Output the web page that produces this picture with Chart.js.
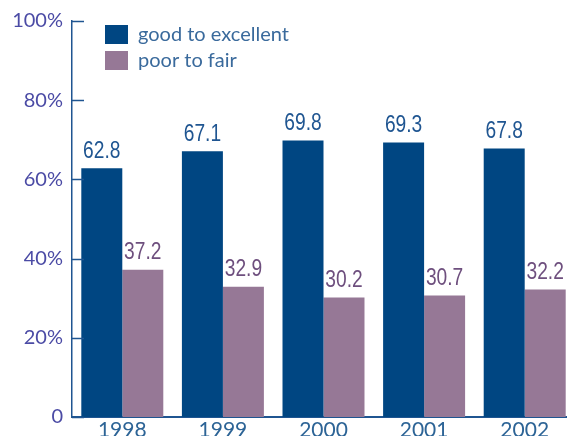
<!DOCTYPE html>
<html>
<head>
<meta charset="utf-8">
<script src="https://cdn.jsdelivr.net/npm/chart.js@4"></script>
<style>
  html, body { margin: 0; padding: 0; background: #fff; overflow: hidden; }
  #wrap { width: 575px; height: 436px; }
</style>
</head>
<body>
<div id="wrap"><canvas id="chart" width="575" height="436"></canvas></div>
<script>
// datos del gráfico
const years = ['1998', '1999', '2000', '2001', '2002'];
const goodToExcellent = [62.8, 67.1, 69.8, 69.3, 67.8];
const poorToFair = [37.2, 32.9, 30.2, 30.7, 32.2];
const seriesNames = ['good to excellent', 'poor to fair'];
const yTicks = [0, 20, 40, 60, 80, 100];

const blue = '#004682';
const purple = '#967896';
const axisColor = '#1f5591';

// marcas del eje Y hacia dentro, leyenda y etiquetas de valor
const extras = {
    id: 'extras',
    afterDraw(chart) {
        const ctx = chart.ctx;
        const y = chart.scales.y;
        const area = chart.chartArea;
        ctx.save();
        ctx.strokeStyle = axisColor;
        ctx.lineWidth = 1.5;
        yTicks.forEach(v => {
            const py = Math.round(y.getPixelForValue(v)) + 0.5;
            ctx.beginPath();
            ctx.moveTo(area.left, py);
            ctx.lineTo(area.left + 12, py);
            ctx.stroke();
        });

        // valores encima de las barras (letra estrechada)
        ctx.font = '24px "Liberation Sans", Arial, sans-serif';
        ctx.textAlign = 'center';
        ctx.textBaseline = 'bottom';
        const labelColors = ['#1f5591', '#6e4f7e'];
        chart.data.datasets.forEach((ds, i) => {
            const meta = chart.getDatasetMeta(i);
            ctx.fillStyle = labelColors[i];
            meta.data.forEach((bar, j) => {
                ctx.save();
                ctx.translate(bar.x, bar.y - 5);
                ctx.scale(0.8, 1);
                ctx.fillText(ds.data[j].toFixed(1), 0, 0);
                ctx.restore();
            });
        });

        // leyenda
        ctx.font = '20px Lato, sans-serif';
        ctx.textAlign = 'left';
        ctx.textBaseline = 'middle';
        chart.data.datasets.forEach((ds, i) => {
            const top = 25 + i * 26;
            ctx.fillStyle = ds.backgroundColor;
            ctx.fillRect(105, top, 23, 19);
            ctx.fillStyle = '#3a6a9c';
            ctx.fillText(ds.label, 138, top + 10);
        });
        ctx.restore();
    }
};

new Chart(document.getElementById('chart'), {
    type: 'bar',
    data: {
        labels: years,
        datasets: [
            { label: seriesNames[0], data: goodToExcellent, backgroundColor: blue },
            { label: seriesNames[1], data: poorToFair, backgroundColor: purple }
        ]
    },
    options: {
        responsive: false,
        animation: false,
        layout: { padding: { top: 21, right: 0, left: 0, bottom: 0 } },
        plugins: {
            legend: { display: false },
            tooltip: { enabled: false }
        },
        datasets: {
            bar: { barPercentage: 1, categoryPercentage: 0.815 }
        },
        scales: {
            x: {
                grid: { display: false, drawTicks: false },
                border: { display: true, color: axisColor, width: 2 },
                ticks: {
                    color: '#2d6496',
                    font: { family: 'Lato', size: 21 },
                    padding: 1
                },
                afterFit(scale) {
                    scale.height = 19;
                    scale.paddingLeft = 0;
                    scale.paddingRight = 0;
                }
            },
            y: {
                min: 0,
                max: 100,
                afterBuildTicks(scale) {
                    scale.ticks = yTicks.map(v => ({ value: v }));
                },
                grid: { display: false, drawTicks: false },
                border: { display: true, color: axisColor, width: 1.5 },
                ticks: {
                    color: '#4b4ba5',
                    font: { family: 'Lato', size: 20 },
                    padding: 9,
                    callback: v => (v === 0 ? '0' : v + '%')
                },
                afterFit(scale) {
                    scale.width = 72;
                    scale.paddingTop = 0;
                    scale.paddingBottom = 0;
                }
            }
        }
    },
    plugins: [extras]
});
</script>
</body>
</html>
